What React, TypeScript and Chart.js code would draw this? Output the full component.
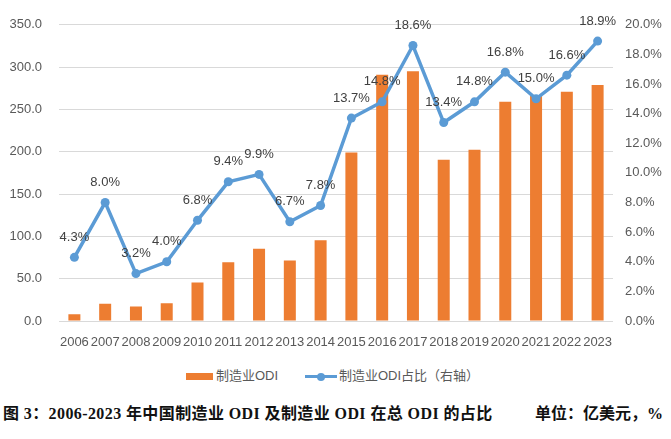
import React, { useEffect, useRef } from "react";
import { Chart, registerables } from "chart.js";

Chart.register(...registerables);

const years = ["2006","2007","2008","2009","2010","2011","2012","2013","2014","2015","2016","2017","2018","2019","2020","2021","2022","2023"];
const odiValues = [8, 20.5, 17, 21, 45.5, 69.5, 85.5, 71.5, 95.5, 199, 291, 295, 190.5, 202.5, 259, 266, 271, 279];
const shareValues = [4.3, 8.0, 3.2, 4.0, 6.8, 9.4, 9.9, 6.7, 7.8, 13.7, 14.8, 18.6, 13.4, 14.8, 16.8, 15.0, 16.6, 18.9];
const barLabel = "制造业ODI";
const lineLabel = "制造业ODI占比（右轴）";
const captionLeft = "图 3：2006-2023 年中国制造业 ODI 及制造业 ODI 在总 ODI 的占比";
const captionRight = "单位：亿美元，%";

const ORANGE = "#ED7D31";
const BLUE = "#5B9BD5";
const TICK = "#595959";
const FONT = "'Liberation Sans', Arial, sans-serif";

const pointLabels = {
  id: "pointLabels",
  afterDatasetsDraw(chart: any) {
    const ctx = chart.ctx;
    const meta = chart.getDatasetMeta(1);
    const data = chart.data.datasets[1].data as number[];
    ctx.save();
    ctx.font = `13px ${FONT}`;
    ctx.fillStyle = "#404040";
    ctx.textAlign = "center";
    ctx.textBaseline = "middle";
    meta.data.forEach((el: any, i: number) => {
      ctx.fillText(data[i].toFixed(1) + "%", el.x, el.y - 20);
    });
    ctx.restore();
  },
};

export default function App() {
  const ref = useRef<HTMLCanvasElement>(null);
  useEffect(() => {
    document.body.style.margin = "0";
    const chart = new Chart(ref.current!, {
      type: "bar",
      data: {
        labels: years,
        datasets: [
          {
            type: "bar",
            label: barLabel,
            data: odiValues,
            backgroundColor: ORANGE,
            yAxisID: "y",
            barPercentage: 0.78,
            categoryPercentage: 0.5,
            order: 2,
          },
          {
            type: "line",
            label: lineLabel,
            data: shareValues,
            borderColor: BLUE,
            backgroundColor: BLUE,
            borderWidth: 3.5,
            pointRadius: 4.5,
            pointBackgroundColor: BLUE,
            pointBorderWidth: 0,
            tension: 0,
            yAxisID: "y1",
            order: 1,
          } as any,
        ],
      },
      options: {
        responsive: false,
        animation: false,
        layout: { padding: { top: 19, right: 0, bottom: 0, left: 0 } },
        plugins: { legend: { display: false }, tooltip: { enabled: false } },
        scales: {
          x: {
            offset: true,
            grid: { display: false, drawTicks: false },
            border: { display: false },
            ticks: { color: TICK, font: { family: FONT, size: 13 }, autoSkip: false, maxRotation: 0, minRotation: 0, padding: 14 },
            afterFit: (s: any) => { s.height = 41; },
          },
          y: {
            position: "left",
            min: 0,
            max: 350,
            ticks: { stepSize: 50, color: TICK, font: { family: FONT, size: 13 }, padding: 17, callback: (v: any) => Number(v).toFixed(1) },
            grid: { color: "#D9D9D9", lineWidth: 1, drawTicks: false },
            border: { display: false },
            afterFit: (s: any) => { s.width = 59; },
          },
          y1: {
            position: "right",
            min: 0,
            max: 20,
            ticks: { stepSize: 2, color: TICK, font: { family: FONT, size: 13 }, padding: 12, callback: (v: any) => Number(v).toFixed(1) + "%" },
            grid: { drawOnChartArea: false, drawTicks: false },
            border: { display: false },
            afterFit: (s: any) => { s.width = 58; },
          },
        },
      },
      plugins: [pointLabels],
    });
    return () => chart.destroy();
  }, []);

  const legendText: React.CSSProperties = {
    position: "absolute",
    top: 368,
    fontFamily: "'Liberation Sans', 'Noto Sans CJK SC', sans-serif",
    fontSize: 13,
    lineHeight: "16px",
    color: TICK,
    whiteSpace: "nowrap",
  };
  const caption: React.CSSProperties = {
    position: "absolute",
    top: 404,
    fontFamily: "'Liberation Serif', 'Noto Sans CJK SC', serif",
    fontWeight: "bold",
    fontSize: 16,
    lineHeight: "20px",
    color: "#111",
    whiteSpace: "nowrap",
  };

  return (
    <div style={{ position: "relative", width: 671, height: 439, background: "#fff", overflow: "hidden" }}>
      <canvas ref={ref} width={671} height={362} style={{ position: "absolute", left: 0, top: 0 }} />
      <div style={{ position: "absolute", left: 186, top: 373, width: 27, height: 7, background: ORANGE }} />
      <div style={{ ...legendText, left: 216 }}>{barLabel}</div>
      <div style={{ position: "absolute", left: 305, top: 375, width: 32, height: 3, background: BLUE }} />
      <div style={{ position: "absolute", left: 317, top: 372.5, width: 8, height: 8, borderRadius: 4, background: BLUE }} />
      <div style={{ ...legendText, left: 339 }}>{lineLabel}</div>
      <div style={{ ...caption, left: 3, letterSpacing: "0.4px" }}>{captionLeft}</div>
      <div style={{ ...caption, right: 8 }}>{captionRight}</div>
    </div>
  );
}
